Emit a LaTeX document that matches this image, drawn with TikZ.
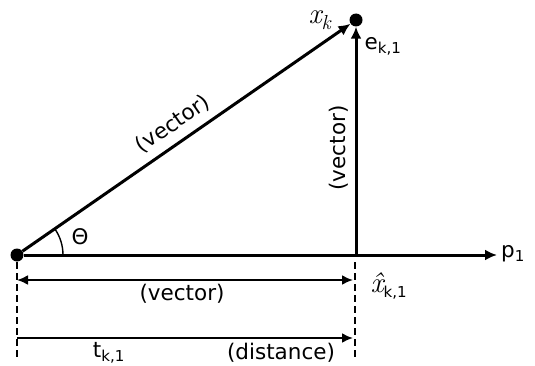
\documentclass[tikz,border=0pt]{standalone}
\usepackage{fontspec}
\setmainfont{DejaVu Sans}
\newfontfamily\lmr{Latin Modern Roman}
\usetikzlibrary{arrows.meta}
\begin{document}
\begin{tikzpicture}[x=1pt,y=1pt,
  font=\fontsize{21.5}{26}\selectfont,
  dot/.style={circle,fill=black,inner sep=0pt,minimum size=13pt},
  ln/.style={line width=3pt},
  arr/.style={ln,-{Latex[length=12pt,width=11pt]}},
  dim/.style={line width=2.1pt},
  dimarr/.style={dim,-{Latex[length=11pt,width=10pt]}},
  dimboth/.style={dim,{Latex[length=11pt,width=10pt]}-{Latex[length=11pt,width=10pt]}},
  guide/.style={line width=2pt,dash pattern=on 7pt off 4pt},
  lbl/.style={inner sep=1pt},
  mathit/.style={font=\fontsize{29}{32}\selectfont\lmr\itshape}]
\useasboundingbox (0,0) rectangle (535,365);
% points
\node[dot] (O) at (17,110) {};
\node[dot] (X) at (356,345) {};
\coordinate (H) at (356,110);
\coordinate (P) at (497,110);
\coordinate (Ob) at (17,8);
\coordinate (Ot) at (17,103);
\coordinate (Hb) at (355,8);
\coordinate (Ht) at (355,103);
\coordinate (A1) at (17,85);
\coordinate (A2) at (353,85);
\coordinate (B1) at (17,27);
\coordinate (B2) at (353,27);
% main lines
\draw[arr] (O) -- (P);
\draw[arr] (O) -- (X);
\draw[arr] (H) -- (X);
% angle
\draw[line width=1.4pt] ([xshift=46pt]O.center) arc (0:34.7:46);
% guides
\draw[guide] (Ot) -- (Ob);
\draw[guide] (Ht) -- (Hb);
% dimension arrows
\draw[dimboth] (A1) -- (A2);
\draw[dimarr] (B1) -- (B2);
% labels
\node[inner sep=0pt,mathit] (lxk) at (320,345) {x\textsubscript{k}};
\node[lbl] (lek) at (383,319) {e\textsubscript{k,1}};
\node[lbl,rotate=90] (lv2) at (339,217) {(vector)};
\node[lbl,rotate=34.7] (lv1) at (173,241) {(vector)};
\node[lbl] (lth) at (80,128) {Θ};
\node[lbl] (lv3) at (182,71) {(vector)};
\node[lbl] (lxh) at (389,79) {{\fontsize{29}{32}\selectfont\lmr\itshape \^{x}}\textsubscript{k,1}};
\node[lbl] (ltk) at (109,12) {t\textsubscript{k,1}};
\node[lbl] (ld) at (281,12) {(distance)};
\node[lbl,anchor=west] (lp) at (500,111) {p\textsubscript{1}};
\end{tikzpicture}
\end{document}
